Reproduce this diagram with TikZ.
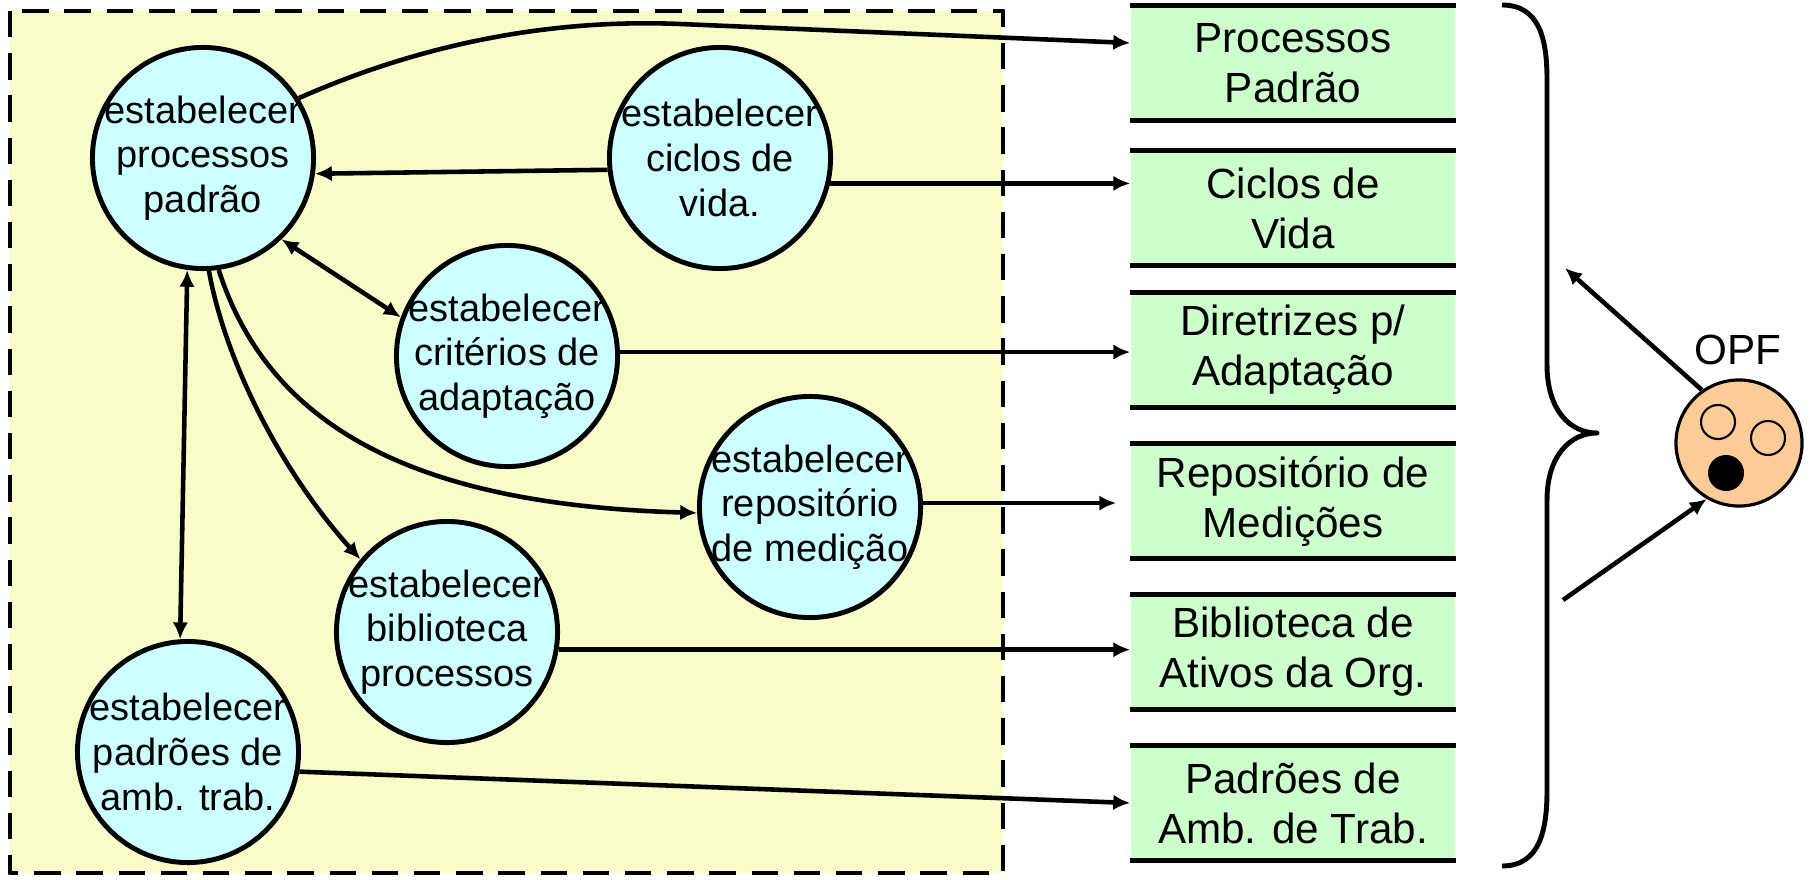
\documentclass[tikz,border=0pt]{standalone}
\usepackage{fontspec}
\setmainfont{Liberation Sans}
\usetikzlibrary{arrows.meta}
\definecolor{fundo}{RGB}{248,252,200}
\definecolor{azul}{RGB}{204,255,255}
\definecolor{verde}{RGB}{204,255,204}
\definecolor{pele}{RGB}{255,204,153}
\tikzset{
  proc/.style={circle,draw,line width=1.4pt,fill=azul,minimum size=2.21cm,inner sep=0pt},
  proctext/.style={align=center,inner sep=0pt,font=\fontsize{10.8}{12.7}\selectfont},
  deposito/.style={fill=verde,minimum width=3.24cm,minimum height=1.14cm,inner sep=0pt,align=center,font=\fontsize{12}{14.2}\selectfont},
  traco/.style={line width=1.5pt},
  seta/.style={line width=1.3pt,->}
}
\begin{document}
\begin{tikzpicture}[line join=round,>={Latex[length=4.8pt,width=4.4pt]},x=0.01cm,y=-0.01cm]
\useasboundingbox (0,0) rectangle (1810,879);
\draw[dash pattern=on 7.5pt off 4.5pt,line width=1.4pt,fill=fundo] (10,11) rectangle (1003,873);
\foreach \n/\x/\y/\t in {pp/203/158/{estabelecer\\processos\\padrão},ciclos/720/158/{estabelecer\\ciclos de\\vida.},crit/507/356/{estabelecer\\critérios de\\adaptação},repos/810/507/{estabelecer\\repositório\\de medição},bib/447/632/{estabelecer\\biblioteca\\processos},amb/188/752/{estabelecer\\padrões de\\amb. trab.}}
  \node[proc,label={[proctext]center:\t}] (\n) at (\x,\y) {};
\foreach \n/\y/\t in {pad/63/{Processos\\Padrão},cic/208/{Ciclos de\\Vida},dir/350/{Diretrizes p/\\Adaptação},med/501/{Repositório de\\Medições},ati/652/{Biblioteca de\\Ativos da Org.},amt/803/{Padrões de\\Amb. de Trab.}}{
  \node[deposito] (\n) at (1293,\y) {\t};
  \draw[traco] (\n.north west) -- (\n.north east) (\n.south west) -- (\n.south east);
}
\draw[seta] (pp.32) .. controls (430,40) and (560,19) .. (680,24) -- (pad.173);
\draw[seta] (ciclos.186) -- (pp.-8);
\draw[seta] (ciclos.-13) -- (ciclos.-13 -| cic.west);
\draw[seta,<->] (pp.-46) -- (crit.160);
\draw[seta] (crit.2) -- (crit.2 -| dir.west);
\draw[seta] (pp.-82) .. controls (270,430) and (420,505) .. (repos.183);
\draw[seta] (pp.-87) .. controls (225,360) and (280,470) .. (bib.140);
\draw[seta,<->] (pp.-98) -- (amb.94);
\draw[seta,shorten >=4pt] (repos.2) -- (repos.2 -| med.west);
\draw[seta] (bib.-9) -- (bib.-9 -| ati.west);
\draw[seta] (amb.-10) -- (amt.west);
\draw[line width=1.4pt] (1502,5) .. controls (1540,5) and (1547,40) .. (1547,80) -- (1547,365) .. controls (1547,410) and (1570,433) .. (1597,433) .. controls (1570,433) and (1547,456) .. (1547,500) -- (1547,790) .. controls (1547,830) and (1540,866) .. (1502,866);
\node[circle,draw,line width=0.9pt,fill=pele,minimum size=1.26cm,inner sep=0pt] (opf) at (1739,443) {};
\node[font=\fontsize{12}{14}\selectfont] (opfrotulo) at (1738,350) {OPF};
\foreach \x/\y in {1718/422,1768/438} \draw[line width=0.6pt] (\x,\y) circle (0.17cm);
\fill (1726,473) circle (0.18cm);
\coordinate (brsup) at (1565,268);
\coordinate (brinf) at (1563,600);
\draw[seta] (opf.125) -- (brsup);
\draw[seta] (brinf) -- (opf.-120);
\end{tikzpicture}
\end{document}
